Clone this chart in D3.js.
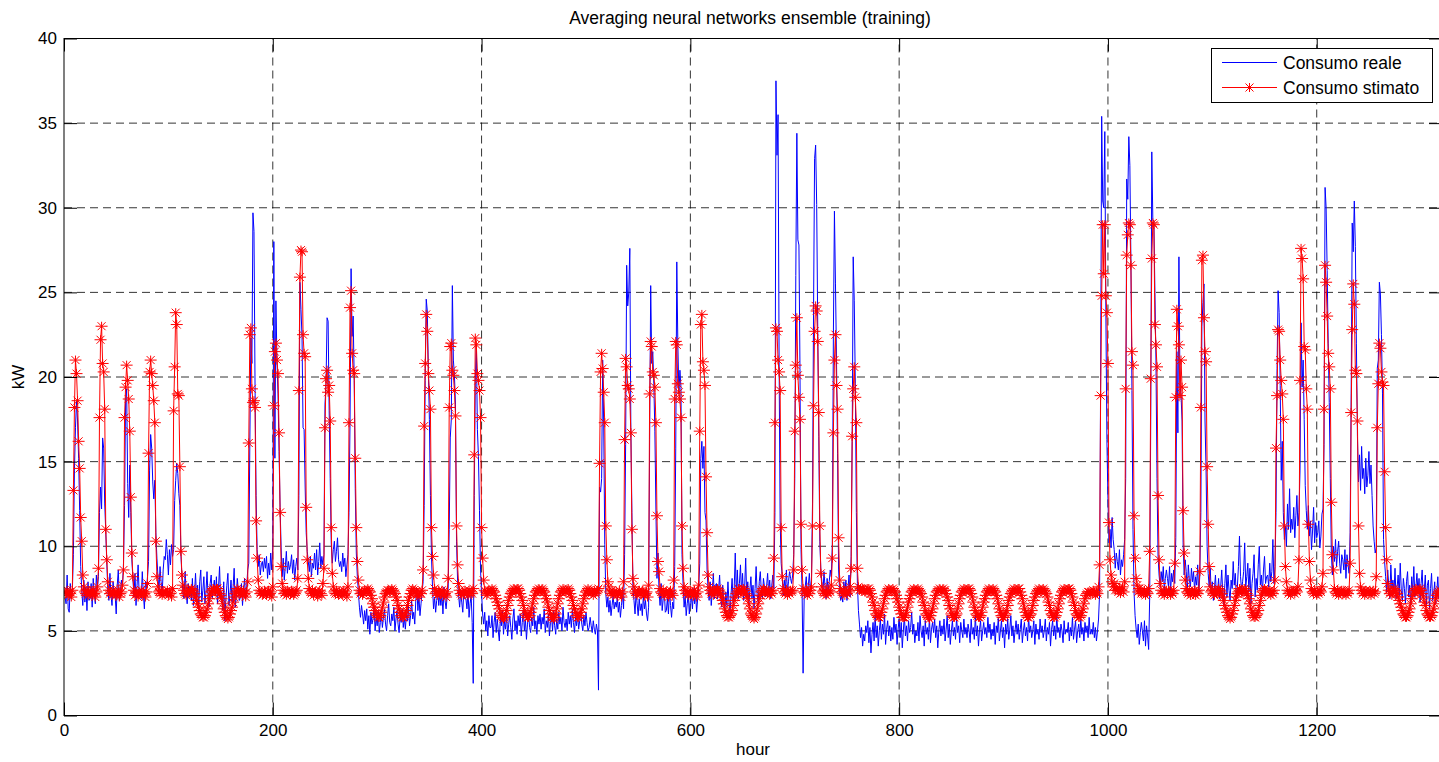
<!DOCTYPE html>
<html><head><meta charset="utf-8">
<script src="https://cdn.jsdelivr.net/npm/d3@7"></script>
<style>
html,body{margin:0;padding:0;background:#fff;}
svg{display:block;font-family:"Liberation Sans",Arial,Helvetica,sans-serif;}
</style></head><body>
<svg id="chart" width="1439" height="762"></svg>
<script>
const chartTitle = "Averaging neural networks ensemble (training)";
const xLabel = "hour";
const yLabel = "kW";
const seriesNames = ["Consumo reale", "Consumo stimato"];
const xTicks = [0, 200, 400, 600, 800, 1000, 1200];
const yTicks = [0, 5, 10, 15, 20, 25, 30, 35, 40];
const xMax = 1320;

// hourly values, one row per day (24 h)
const consumoReale = [
7.0,6.6,8.3,6.3,6.1,7.8,6.9,7.4,9.5,14.5,17.0,18.6,17.4,15.2,12.1,8.8,7.4,6.5,8.0,6.7,7.6,6.2,7.9,6.8,
6.9,7.8,6.4,8.1,7.2,6.6,8.3,7.5,8.2,12.0,13.5,12.2,16.4,15.8,12.5,10.9,9.0,7.3,6.8,8.4,7.1,6.5,7.9,7.2,
7.1,6.0,7.7,8.6,6.8,7.3,8.0,7.6,9.0,12.4,18.7,19.3,13.7,11.7,14.8,12.0,9.2,8.1,7.0,8.4,6.5,7.7,8.9,7.2,
7.4,6.9,8.5,7.2,6.3,7.9,7.5,8.2,9.1,14.5,16.6,15.8,13.8,12.8,13.9,10.8,9.3,8.2,7.4,8.8,7.9,7.1,8.6,9.4,
9.2,10.4,9.5,8.3,9.8,8.9,10.1,9.4,9.8,12.7,13.9,14.9,14.3,13.1,12.4,9.6,8.1,7.2,6.9,8.5,7.4,6.6,7.8,7.0,
7.6,6.8,8.1,6.5,7.2,8.4,6.9,7.7,6.3,7.9,8.6,6.7,7.4,8.2,6.6,7.3,8.5,7.0,6.4,7.8,8.3,6.9,7.5,8.0,
7.1,8.2,6.6,7.5,8.8,6.9,7.3,6.2,7.9,5.6,6.8,7.7,8.4,6.5,7.2,8.0,6.7,7.6,8.7,6.4,7.0,8.1,7.4,6.8,
7.0,7.8,6.5,7.4,8.1,6.9,7.6,8.6,9.0,16.0,22.3,20.8,29.7,28.6,19.5,13.0,9.8,8.8,9.5,8.3,8.9,9.1,8.5,9.3,
8.7,9.4,8.1,9.0,8.3,9.6,8.6,10.1,28.0,15.2,24.5,21.0,19.0,15.6,12.3,9.9,8.2,9.3,8.0,8.8,9.7,8.4,9.1,8.6,
8.9,9.5,8.4,9.2,8.0,8.8,9.3,8.6,13.0,25.6,24.0,22.4,17.0,16.9,13.5,10.8,9.7,9.1,8.5,9.4,8.2,9.0,8.7,9.6,
8.6,9.8,8.3,9.1,10.2,8.7,9.4,8.9,9.5,18.4,19.6,23.5,23.3,18.0,14.0,10.2,9.0,9.8,10.3,9.1,9.7,10.5,9.2,8.8,
9.1,8.5,9.6,8.8,9.3,8.2,8.9,9.5,12.0,17.4,26.4,22.4,23.6,19.8,13.4,9.6,8.2,7.3,6.4,5.8,6.5,6.0,5.4,6.2,
5.6,6.3,5.1,5.9,4.8,6.1,5.4,5.7,6.4,5.0,5.8,5.3,6.2,4.9,5.5,6.0,5.2,5.8,6.3,5.4,5.0,5.9,6.6,5.5,
5.3,6.0,5.6,6.4,5.0,5.7,6.2,5.4,4.9,5.9,5.5,6.3,5.2,5.8,5.1,6.0,5.6,6.5,5.3,5.9,6.8,5.7,6.1,5.4,
6.8,7.5,6.2,7.1,5.9,6.6,7.3,7.9,12.4,19.8,24.6,23.9,20.6,17.5,13.0,9.4,7.6,6.3,7.0,6.1,6.8,7.4,6.5,7.2,
6.5,7.2,6.0,7.6,6.8,6.3,7.0,7.5,11.0,16.4,17.5,25.4,21.0,20.1,18.4,10.3,8.0,7.1,6.4,7.3,6.7,6.1,7.4,6.9,
6.9,6.3,7.4,5.8,6.6,7.1,5.5,1.9,13.0,19.8,21.9,16.9,15.3,12.1,8.6,7.2,6.0,5.4,6.1,5.0,5.6,4.7,5.9,5.2,
5.2,5.9,4.6,5.5,6.1,4.9,5.7,5.0,4.4,5.8,5.3,6.2,4.8,5.6,5.1,6.0,4.7,5.4,5.9,5.2,4.5,5.7,6.3,5.0,
5.6,4.8,5.9,5.3,6.0,4.7,5.5,6.2,5.0,5.7,4.5,5.4,6.1,5.2,4.9,5.8,5.3,6.4,5.1,5.6,4.8,5.9,5.4,6.0,
5.1,5.8,5.4,6.3,4.9,5.6,5.2,6.0,4.7,5.5,5.9,5.0,6.2,5.3,4.8,5.7,5.1,6.1,5.4,5.8,5.0,6.4,5.5,5.2,
5.7,5.0,6.1,5.4,5.9,5.2,6.3,5.5,4.9,5.8,5.3,6.0,5.1,5.6,6.2,5.4,5.0,5.9,5.3,6.1,5.5,5.0,5.2,5.8,
5.3,4.9,5.6,5.1,4.8,5.4,5.0,1.5,13.5,13.2,14.0,21.0,17.2,10.1,7.2,6.4,7.0,6.1,6.8,5.9,6.5,7.1,6.3,6.7,
6.4,7.0,6.1,6.7,5.8,6.5,7.2,6.3,9.5,16.0,26.6,24.2,25.0,27.6,17.0,12.0,7.5,6.8,6.0,7.3,6.6,5.9,6.9,6.2,
6.6,5.9,7.1,6.3,6.8,6.0,5.6,6.4,16.3,25.4,20.8,21.5,19.6,16.8,12.2,8.1,9.6,7.3,6.5,7.8,6.2,6.9,7.4,6.1,
6.2,6.9,6.0,7.4,6.5,5.8,6.7,6.3,8.8,15.8,26.8,22.0,19.0,20.4,19.4,9.5,7.8,6.4,7.1,5.9,6.6,7.2,6.0,6.8,
7.0,6.3,7.5,6.6,7.2,6.1,6.9,7.6,9.0,15.2,16.2,14.6,15.9,12.0,11.5,8.6,7.4,6.8,7.9,6.5,7.3,8.4,6.9,7.7,
7.8,6.9,7.4,8.3,7.0,6.4,7.7,6.8,6.1,7.3,6.5,7.9,6.7,6.0,7.2,8.1,6.6,7.5,9.6,7.1,8.6,6.9,7.8,8.9,
7.2,8.4,6.8,7.6,9.3,7.0,7.9,6.5,7.4,8.2,6.9,7.7,6.3,7.5,8.8,7.1,6.7,7.9,8.5,7.3,6.9,8.1,7.6,7.0,
7.6,8.4,7.2,8.0,6.9,7.7,8.3,7.5,12.0,37.5,33.1,35.5,21.0,11.5,9.0,8.2,7.1,8.0,7.4,8.6,7.3,7.9,8.5,8.1,
7.8,8.3,9.5,14.0,26.0,34.4,28.1,27.8,20.5,9.8,7.4,2.5,6.9,7.6,8.2,7.0,7.7,8.4,7.3,8.0,12.5,24.0,32.9,33.7,
30.2,23.0,16.5,10.3,8.6,7.9,7.2,8.5,7.6,6.9,8.1,7.4,7.9,8.6,8.2,10.1,22.5,29.8,25.5,21.0,15.5,8.6,7.3,6.8,
7.1,6.7,7.9,7.3,8.0,6.8,7.5,8.3,7.0,9.4,16.2,27.1,24.5,19.6,12.0,7.8,6.2,5.4,4.6,5.2,4.1,4.8,4.4,5.3,
4.9,5.6,4.3,5.2,3.7,4.8,5.5,4.4,5.9,4.6,5.3,4.1,5.0,5.7,4.5,5.4,4.8,6.0,4.2,5.1,5.6,4.7,5.3,4.4,
5.2,4.5,5.8,4.9,5.4,4.2,5.1,5.7,4.6,5.5,4.0,5.0,5.9,4.7,5.3,4.4,5.6,4.9,5.2,6.1,4.8,5.4,4.3,5.0,
4.7,5.5,4.4,5.9,5.0,4.6,5.3,4.1,5.6,4.8,5.2,4.5,5.8,4.3,5.1,5.5,4.9,5.7,4.6,5.3,4.0,5.0,5.6,4.7,
5.3,4.8,5.7,4.4,5.1,5.9,4.6,5.4,4.2,5.0,5.6,4.7,5.2,4.5,5.8,4.9,5.3,4.3,5.5,5.0,4.6,5.7,4.8,5.2,
4.6,5.4,5.0,4.3,5.7,4.8,5.2,4.5,5.9,4.7,5.3,4.1,5.1,5.6,4.4,5.0,5.5,4.8,5.2,4.6,5.8,4.9,5.4,4.5,
5.1,4.7,5.5,4.2,5.3,4.9,5.8,4.4,5.0,5.6,4.6,5.2,4.0,5.4,4.8,5.7,4.5,5.1,5.9,4.7,5.3,4.3,5.0,5.6,
4.8,5.4,4.5,5.1,5.7,4.3,5.0,5.5,4.7,5.2,4.4,5.8,4.9,5.3,4.6,5.0,5.6,4.2,5.4,4.8,5.1,4.5,5.7,4.9,
5.3,4.6,5.0,5.7,4.4,5.2,4.8,5.5,4.1,5.1,5.6,4.7,5.3,4.5,5.9,4.9,5.2,4.6,5.4,5.0,4.3,5.6,4.8,5.1,
4.9,5.5,4.4,5.2,4.7,5.8,4.5,5.1,5.6,4.3,5.0,5.4,4.6,5.7,4.8,5.2,4.4,5.5,4.9,5.3,4.6,5.8,4.8,5.1,
4.8,5.5,4.6,5.2,4.4,5.0,5.7,7.2,20.0,35.4,30.4,30.0,34.5,24.0,16.3,12.8,10.2,11.0,9.9,11.7,10.4,9.8,8.7,9.6,
9.1,8.6,9.8,8.3,9.2,8.8,9.5,10.4,14.0,31.7,30.5,34.2,32.5,27.0,19.2,11.0,7.3,5.9,5.1,4.6,5.4,4.2,4.9,5.5,
5.0,4.4,5.6,4.1,5.3,4.7,3.9,7.0,17.5,33.3,29.3,29.2,25.0,21.0,14.0,9.4,8.3,7.6,8.5,7.9,8.8,7.4,8.1,8.6,
8.1,7.6,8.8,7.3,8.4,7.9,8.6,7.8,10.5,21.5,16.7,27.1,19.5,19.0,17.4,10.2,8.3,9.2,8.5,7.3,8.9,8.0,7.6,8.7,
7.9,8.5,7.4,8.2,7.7,8.9,7.1,8.3,12.0,23.0,24.4,25.5,17.4,14.5,10.0,8.4,7.6,8.7,7.2,7.9,6.8,7.5,8.3,7.0,
7.3,8.1,6.9,7.6,8.6,7.2,6.5,7.8,8.9,7.0,8.3,7.4,6.8,8.0,7.5,9.1,7.7,8.4,6.9,7.6,8.8,10.6,8.2,7.4,
7.9,8.5,10.2,7.6,8.2,9.0,7.3,8.7,6.6,7.8,8.4,9.5,7.0,8.1,7.4,8.9,10.0,7.7,8.3,7.2,8.6,9.4,7.8,8.2,
8.3,7.6,9.0,7.9,8.5,10.4,7.8,8.8,12.0,20.5,25.1,23.8,19.5,13.9,16.2,12.0,10.4,11.2,10.0,12.5,11.0,13.4,10.8,11.6,
11.0,12.3,10.5,11.8,13.0,11.2,12.0,14.5,23.2,19.4,21.0,17.5,13.6,12.1,11.0,12.4,10.6,11.5,9.8,10.9,12.3,10.2,11.4,10.5,
10.8,11.5,9.9,10.6,11.9,12.2,16.0,31.2,30.0,26.3,22.0,18.5,14.0,9.6,8.3,10.0,9.1,10.4,8.8,9.7,10.3,9.0,8.4,9.5,
9.2,8.6,9.8,8.1,9.5,8.9,8.4,10.8,19.0,29.1,27.4,30.4,27.7,22.0,16.5,13.8,15.4,13.3,15.9,14.0,14.6,13.1,15.2,13.5,
14.2,15.6,13.7,14.8,13.0,11.2,10.3,9.6,9.9,20.5,21.0,25.6,24.9,22.5,19.0,10.4,9.1,8.2,7.3,8.6,7.7,6.9,8.9,7.5,
8.0,7.2,8.7,6.9,7.6,8.3,7.1,9.0,7.4,6.8,8.1,7.5,6.6,7.9,8.5,7.0,7.7,6.5,8.2,7.3,8.8,7.0,7.6,8.4,
7.2,8.1,6.7,7.8,8.6,6.9,7.4,8.3,6.5,7.7,8.0,6.3,7.5,8.4,6.8,7.1,7.9,6.6,7.3,8.2,6.9,7.6,8.5,10.3
];

const consumoStimato = [
7.3,7.2,7.4,7.1,7.2,7.3,7.0,7.4,13.3,18.2,21.0,20.2,18.6,16.2,14.6,11.7,10.3,8.3,7.6,7.3,7.2,7.4,7.1,7.3,
7.2,7.3,7.1,7.4,7.2,7.0,7.3,7.6,8.7,17.6,22.2,23.0,20.8,20.3,18.1,11.0,9.2,7.9,7.4,7.2,7.3,7.1,7.4,7.2,
7.3,7.1,7.2,7.4,7.0,7.2,7.3,7.7,8.6,17.6,19.4,20.7,19.8,18.7,16.8,12.9,9.6,8.2,7.4,7.1,7.3,7.2,7.0,7.3,
7.2,7.4,7.1,7.3,7.2,7.0,7.3,7.8,15.5,20.3,21.0,20.2,19.5,18.6,17.3,10.3,8.2,7.6,7.3,7.2,7.4,7.1,7.3,7.2,
7.3,7.2,7.4,7.1,7.3,7.2,7.0,7.5,18.0,20.6,23.8,23.1,19.0,18.9,14.7,9.7,8.3,7.7,7.4,7.2,7.1,7.3,7.2,7.4,
7.4,7.5,7.4,7.3,7.2,7.0,6.8,6.6,6.4,6.2,6.0,5.9,5.8,5.8,5.9,6.1,6.3,6.6,6.9,7.1,7.3,7.4,7.5,7.4,
7.3,7.5,7.5,7.4,7.2,7.1,6.9,6.6,6.3,6.1,5.9,5.8,5.7,5.8,6.0,6.2,6.4,6.7,7.0,7.2,7.3,7.5,7.4,7.3,
7.2,7.3,7.1,7.4,7.2,7.0,7.3,7.9,16.1,22.5,22.9,19.3,18.5,18.6,18.2,11.5,9.3,8.0,7.4,7.2,7.3,7.1,7.2,7.4,
7.3,7.1,7.2,7.4,7.2,7.3,7.0,7.6,18.3,21.5,22.0,21.0,20.2,16.7,12.0,8.8,7.8,7.4,7.2,7.3,7.1,7.4,7.2,7.3,
7.2,7.4,7.3,7.1,7.2,7.3,7.4,8.1,19.2,25.9,27.5,27.4,22.5,21.4,21.2,12.3,9.2,8.1,7.5,7.3,7.2,7.4,7.1,7.3,
7.3,7.2,7.0,7.3,7.4,7.2,7.1,7.8,8.7,17.0,19.9,20.4,19.1,19.5,17.4,11.1,8.4,7.6,7.3,7.2,7.4,7.2,7.1,7.3,
7.2,7.3,7.1,7.4,7.2,7.3,7.0,7.6,17.3,24.1,25.1,21.4,20.4,20.2,15.2,11.1,9.1,8.0,7.4,7.2,7.3,7.1,7.2,7.4,
7.3,7.4,7.5,7.4,7.3,7.1,6.9,6.6,6.4,6.2,6.0,5.9,5.8,5.8,5.9,6.1,6.4,6.7,7.0,7.2,7.3,7.4,7.4,7.3,
7.4,7.5,7.4,7.3,7.2,7.0,6.8,6.5,6.3,6.1,5.9,5.8,5.8,5.9,6.0,6.2,6.5,6.8,7.0,7.2,7.4,7.5,7.4,7.3,
7.3,7.1,7.2,7.0,7.3,7.2,7.4,8.6,17.1,20.8,23.7,22.7,20.2,19.2,18.1,11.1,9.4,8.3,7.5,7.2,7.3,7.1,7.4,7.2,
7.2,7.4,7.3,7.1,7.2,7.0,7.3,8.1,18.2,21.8,22.0,20.4,20.1,19.2,17.7,11.2,8.9,7.8,7.4,7.2,7.1,7.3,7.2,7.4,
7.3,7.2,7.1,7.4,7.2,7.3,7.2,7.5,15.4,22.3,21.9,20.2,19.8,19.2,17.6,11.1,9.3,8.0,7.4,7.3,7.1,7.2,7.4,7.3,
7.4,7.5,7.4,7.3,7.1,6.9,6.7,6.5,6.3,6.0,5.9,5.8,5.7,5.8,6.0,6.2,6.5,6.8,7.0,7.2,7.3,7.4,7.5,7.4,
7.3,7.5,7.5,7.4,7.2,7.0,6.8,6.5,6.2,6.0,5.9,5.8,5.8,5.9,6.1,6.3,6.6,6.9,7.1,7.3,7.4,7.4,7.5,7.3,
7.4,7.5,7.4,7.3,7.1,6.9,6.7,6.4,6.2,6.0,5.8,5.8,5.7,5.8,6.0,6.3,6.6,6.9,7.1,7.3,7.4,7.5,7.4,7.3,
7.3,7.4,7.5,7.4,7.2,7.0,6.8,6.5,6.3,6.1,5.9,5.8,5.8,5.9,6.1,6.3,6.6,6.9,7.1,7.3,7.4,7.5,7.4,7.3,
7.2,7.3,7.1,7.4,7.2,7.3,7.4,7.5,14.9,20.3,21.4,20.5,19.1,17.3,11.2,9.2,7.9,7.6,7.3,7.2,7.4,7.1,7.3,7.2,
7.3,7.1,7.2,7.4,7.2,7.0,7.3,7.9,16.3,21.1,20.6,19.5,19.3,18.7,16.7,11.0,8.1,7.6,7.3,7.2,7.1,7.3,7.4,7.2,
7.2,7.4,7.3,7.1,7.2,7.3,7.0,7.7,19.0,22.1,21.8,20.3,20.1,19.4,17.3,11.8,9.1,8.5,7.5,7.3,7.2,7.4,7.1,7.3,
7.3,7.2,7.0,7.3,7.4,7.2,7.1,8.0,18.7,22.1,21.9,19.6,19.1,18.7,17.6,11.2,8.7,7.6,7.4,7.2,7.3,7.1,7.2,7.4,
7.2,7.3,7.1,7.4,7.2,7.0,7.3,7.7,16.8,23.1,23.7,20.9,20.4,19.5,14.1,10.8,8.3,7.6,7.4,7.2,7.3,7.1,7.4,7.3,
7.4,7.5,7.4,7.3,7.2,7.0,6.8,6.6,6.3,6.1,5.9,5.8,5.8,5.9,6.0,6.2,6.5,6.8,7.0,7.2,7.3,7.5,7.4,7.3,
7.3,7.4,7.5,7.4,7.2,7.1,6.9,6.6,6.3,6.0,5.9,5.8,5.7,5.8,6.0,6.3,6.6,6.9,7.1,7.3,7.4,7.5,7.4,7.3,
7.3,7.2,7.4,7.1,7.3,7.2,7.4,9.3,17.3,22.9,22.7,21.0,20.3,19.2,11.1,8.2,7.5,7.3,7.2,7.4,7.1,7.3,7.2,7.4,
7.3,7.4,8.6,16.8,20.7,23.5,20.1,18.8,17.5,11.3,8.6,7.5,7.3,7.2,7.4,7.1,7.3,7.2,7.4,7.6,11.2,18.3,22.7,24.2,
23.9,22.1,17.9,11.2,8.4,7.6,7.3,7.2,7.4,7.1,7.3,7.2,7.4,7.3,7.7,9.3,16.7,21.0,22.5,19.5,18.1,10.5,8.0,7.5,
7.3,7.2,7.4,7.1,7.3,7.2,7.4,7.3,7.6,8.7,16.5,19.3,20.6,18.8,17.3,8.7,7.6,7.4,7.5,7.4,7.5,7.4,7.3,7.3,
7.4,7.5,7.5,7.4,7.2,7.0,6.7,6.5,6.2,6.0,5.9,5.8,5.8,5.9,6.1,6.3,6.6,6.9,7.1,7.3,7.4,7.5,7.4,7.4,
7.3,7.5,7.4,7.3,7.1,6.9,6.7,6.4,6.2,6.0,5.8,5.8,5.8,5.9,6.1,6.4,6.7,6.9,7.1,7.3,7.4,7.5,7.4,7.3,
7.4,7.5,7.4,7.3,7.2,7.0,6.7,6.5,6.2,6.0,5.9,5.8,5.7,5.9,6.1,6.3,6.6,6.9,7.1,7.3,7.4,7.4,7.5,7.4,
7.3,7.5,7.4,7.4,7.2,7.0,6.8,6.5,6.3,6.0,5.9,5.8,5.8,5.9,6.0,6.3,6.6,6.9,7.1,7.3,7.4,7.5,7.4,7.3,
7.4,7.5,7.5,7.4,7.2,7.0,6.7,6.4,6.2,6.0,5.9,5.8,5.8,5.9,6.1,6.4,6.7,6.9,7.1,7.3,7.4,7.5,7.4,7.3,
7.4,7.5,7.4,7.3,7.1,6.9,6.6,6.3,6.1,5.9,5.8,5.8,5.9,6.0,6.2,6.5,6.8,7.0,7.2,7.3,7.4,7.5,7.4,7.3,
7.4,7.5,7.5,7.3,7.1,6.9,6.6,6.3,6.1,5.9,5.8,5.8,5.9,6.0,6.2,6.5,6.8,7.0,7.2,7.3,7.4,7.5,7.4,7.3,
7.4,7.5,7.4,7.3,7.2,7.0,6.7,6.5,6.2,6.0,5.9,5.8,5.8,5.9,6.1,6.3,6.6,6.9,7.1,7.3,7.4,7.5,7.4,7.3,
7.4,7.5,7.5,7.4,7.2,7.0,6.7,6.5,6.2,6.0,5.9,5.8,5.8,5.9,6.1,6.3,6.6,6.9,7.1,7.2,7.3,7.3,7.2,7.3,
7.2,7.4,7.3,7.1,7.3,7.2,7.6,8.9,18.9,24.8,29.0,26.1,29.0,24.8,23.8,20.8,11.4,9.2,8.3,7.9,7.6,7.8,7.4,7.6,
7.4,7.3,7.5,7.2,7.4,7.6,7.3,7.9,19.3,27.2,28.4,29.1,29.0,26.6,21.5,20.7,11.8,9.3,8.1,7.7,7.3,7.5,7.4,7.2,
7.3,7.2,7.4,7.1,7.3,7.2,7.5,9.7,19.9,27.0,29.1,29.0,23.1,21.9,20.6,13.0,9.2,7.8,7.4,7.2,7.3,7.1,7.3,7.4,
7.2,7.4,7.3,7.1,7.3,7.2,7.4,9.0,18.8,24.0,23.0,21.9,18.9,21.0,19.4,12.1,9.6,8.0,7.5,7.3,7.2,7.4,7.1,7.3,
7.3,7.2,7.4,7.1,7.3,7.2,7.4,8.5,18.2,26.9,27.2,23.5,21.5,20.9,14.7,11.3,8.8,7.6,7.3,7.4,7.2,7.1,7.3,7.2,
7.4,7.5,7.4,7.3,7.2,7.0,6.8,6.5,6.3,6.1,5.9,5.8,5.7,5.8,6.0,6.2,6.5,6.8,7.0,7.2,7.3,7.5,7.4,7.3,
7.3,7.4,7.5,7.4,7.2,7.1,6.9,6.6,6.3,6.1,5.9,5.8,5.8,5.9,6.0,6.2,6.5,6.8,7.1,7.3,7.4,7.5,7.4,7.3,
7.3,7.2,7.4,7.1,7.3,7.2,7.4,8.0,15.8,18.9,22.8,22.7,21.0,19.8,19.0,17.5,11.2,8.8,7.9,7.4,7.2,7.3,7.1,7.4,
7.3,7.4,7.2,7.4,7.3,7.6,9.2,19.8,27.6,27.0,25.8,21.8,21.6,19.3,18.1,11.3,9.1,8.0,7.5,7.3,7.2,7.4,7.3,7.1,
7.3,7.2,7.4,7.3,7.6,8.4,18.1,26.6,25.6,23.6,21.4,20.6,19.3,12.6,9.5,8.6,7.5,7.3,7.2,7.4,7.1,7.3,7.2,7.4,
7.2,7.4,7.3,7.1,7.3,7.2,7.4,9.0,17.9,22.8,25.5,24.3,20.4,20.2,17.4,11.2,8.4,7.6,7.4,7.2,7.3,7.1,7.4,7.3,
7.3,7.2,7.4,7.1,7.3,7.4,7.2,7.3,8.2,17.0,19.6,22.0,21.7,20.3,19.7,19.5,14.4,11.1,9.2,7.8,7.4,7.2,7.3,7.1,
7.4,7.5,7.4,7.3,7.2,7.0,6.8,6.6,6.4,6.2,6.0,5.9,5.8,5.8,5.9,6.1,6.3,6.6,6.9,7.1,7.3,7.4,7.5,7.4,
7.3,7.4,7.5,7.4,7.2,7.0,6.7,6.5,6.2,6.0,5.9,5.8,5.8,5.9,6.1,6.3,6.6,6.9,7.1,7.2,7.3,7.4,7.3,7.1
];

const W = 1439, H = 762;
const M = {left: 64, top: 38.5, right: 1442, bottom: 715.5};
const fontSize = 17;

const x = d3.scaleLinear().domain([0, xMax]).range([M.left, M.right]);
const y = d3.scaleLinear().domain([0, 40]).range([M.bottom, M.top]);

const svg = d3.select("#chart");
svg.append("rect").attr("width", W).attr("height", H).attr("fill", "#fff");

svg.append("defs").append("clipPath").attr("id", "clip")
  .append("rect").attr("x", M.left).attr("y", M.top)
  .attr("width", M.right - M.left).attr("height", M.bottom - M.top);

// grid
const grid = svg.append("g").attr("stroke", "#000").attr("stroke-width", 0.8)
  .attr("stroke-dasharray", "8,5").attr("fill", "none");
grid.selectAll("line.gx").data(xTicks.filter(t => t > 0)).join("line")
  .attr("x1", d => x(d)).attr("x2", d => x(d)).attr("y1", M.bottom).attr("y2", M.top);
grid.selectAll("line.gy").data(yTicks.filter(t => t > 0 && t < 40)).join("line")
  .attr("y1", d => y(d)).attr("y2", d => y(d)).attr("x1", M.left).attr("x2", M.right);

// series
const data = consumoReale.map((v, i) => ({h: i + 1, r: v, s: consumoStimato[i]}));
const plot = svg.append("g").attr("clip-path", "url(#clip)");
plot.append("path").datum(data)
  .attr("fill", "none").attr("stroke", "#0000ff").attr("stroke-width", 1)
  .attr("d", d3.line().x(d => x(d.h)).y(d => y(d.r)));
plot.append("path").datum(data)
  .attr("fill", "none").attr("stroke", "#ff0000").attr("stroke-width", 1)
  .attr("d", d3.line().x(d => x(d.h)).y(d => y(d.s)));

function starPath(cx, cy) {
  return `M${cx-6},${cy}h12M${cx},${cy-4.5}v9M${cx-4},${cy-4}l8,8M${cx-4},${cy+4}l8,-8`;
}
plot.append("path")
  .attr("fill", "none").attr("stroke", "#ff0000").attr("stroke-width", 1)
  .attr("d", data.map(d => starPath(x(d.h), y(d.s))).join(""));

// axes (inward ticks on all four sides)
const tickLen = 13;
const fmt = d3.format("d");
const axB = svg.append("g").attr("transform", `translate(0,${M.bottom})`)
  .call(d3.axisBottom(x).tickValues(xTicks).tickFormat(fmt).tickSize(-tickLen).tickSizeOuter(0).tickPadding(8));
const axL = svg.append("g").attr("transform", `translate(${M.left},0)`)
  .call(d3.axisLeft(y).tickValues(yTicks).tickFormat(fmt).tickSize(-tickLen).tickSizeOuter(0).tickPadding(7));
const axT = svg.append("g").attr("transform", `translate(0,${M.top})`)
  .call(d3.axisTop(x).tickValues(xTicks).tickSize(-tickLen).tickSizeOuter(0).tickFormat(""));
const axR = svg.append("g").attr("transform", `translate(${M.right},0)`)
  .call(d3.axisRight(y).tickValues(yTicks).tickSize(-tickLen).tickSizeOuter(0).tickFormat(""));
[axB, axL, axT, axR].forEach(g => {
  g.select(".domain").remove();
  g.selectAll(".tick line").attr("stroke", "#000").attr("stroke-width", 1);
  g.selectAll("text").attr("fill", "#000").style("font-size", fontSize + "px")
    .style("font-family", '"Liberation Sans", Arial, sans-serif');
});

svg.append("rect").attr("x", M.left).attr("y", M.top)
  .attr("width", M.right - M.left).attr("height", M.bottom - M.top)
  .attr("fill", "none").attr("stroke", "#000").attr("stroke-width", 1);

// titles
svg.append("text").attr("x", 750).attr("y", 24).attr("text-anchor", "middle")
  .style("font-size", "17.5px").text(chartTitle);
svg.append("text").attr("x", 753).attr("y", 755).attr("text-anchor", "middle")
  .style("font-size", fontSize + "px").text(xLabel);
svg.append("text").attr("transform", "translate(24,377) rotate(-90)").attr("text-anchor", "middle")
  .style("font-size", fontSize + "px").text(yLabel);

// legend
const lg = svg.append("g");
lg.append("rect").attr("x", 1211.5).attr("y", 48.5).attr("width", 221).attr("height", 54)
  .attr("fill", "#fff").attr("stroke", "#000").attr("stroke-width", 1);
lg.append("line").attr("x1", 1222).attr("x2", 1277).attr("y1", 62.5).attr("y2", 62.5)
  .attr("stroke", "#0000ff").attr("stroke-width", 1);
lg.append("line").attr("x1", 1222).attr("x2", 1277).attr("y1", 87.5).attr("y2", 87.5)
  .attr("stroke", "#ff0000").attr("stroke-width", 1);
lg.append("path").attr("d", starPath(1249.5, 87.5)).attr("stroke", "#ff0000")
  .attr("stroke-width", 1).attr("fill", "none");
lg.append("text").attr("x", 1283).attr("y", 69).style("font-size", "17.5px").text(seriesNames[0]);
lg.append("text").attr("x", 1283).attr("y", 93.5).style("font-size", "17.5px").text(seriesNames[1]);

if (consumoReale.length !== xMax || consumoStimato.length !== xMax) {
  throw new Error("length mismatch: " + consumoReale.length + " / " + consumoStimato.length);
}
</script>
</body></html>
